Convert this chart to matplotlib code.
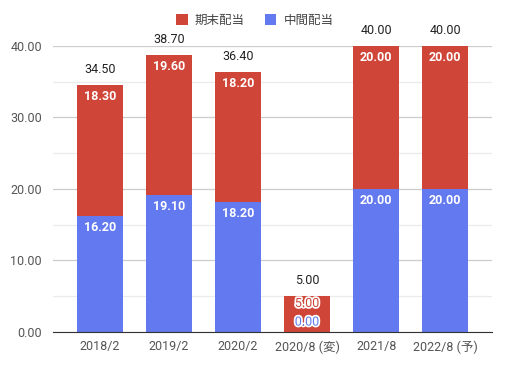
import matplotlib
matplotlib.use('Agg')
import matplotlib.pyplot as plt
import matplotlib.patheffects as pe
import numpy as np

plt.rcParams['font.family'] = ['Roboto', 'Noto Sans CJK JP', 'DejaVu Sans']

categories = ['2018/2', '2019/2', '2020/2', '2020/8 (変)', '2021/8', '2022/8 (予)']
interim = [16.2, 19.1, 18.2, 0.0, 20.0, 20.0]    # 中間配当
year_end = [18.3, 19.6, 18.2, 5.0, 20.0, 20.0]   # 期末配当
totals = [34.5, 38.7, 36.4, 5.0, 40.0, 40.0]

RED = '#cf4538'
BLUE = '#6379ef'

fig = plt.figure(figsize=(5.1, 3.67), dpi=100)
ax = fig.add_axes([0.104, 0.0954, 0.861, 0.7793])

x = np.arange(len(categories))
w = 0.67
ax.bar(x, interim, w, color=BLUE, zorder=3, label='中間配当')
ax.bar(x, year_end, w, bottom=interim, color=RED, zorder=3, label='期末配当')

ax.set_xlim(-0.68, len(categories) - 0.32)
ax.set_ylim(0, 40)
ax.set_yticks([0, 10, 20, 30, 40])
ax.set_yticklabels([f'{v:.2f}' for v in [0, 10, 20, 30, 40]])
ax.set_yticks([5, 15, 25, 35], minor=True)
ax.grid(axis='y', which='major', color='#cccccc', lw=0.9, zorder=0)
ax.grid(axis='y', which='minor', color='#ebebeb', lw=0.9, zorder=0)
ax.set_xticks(x)
ax.set_xticklabels(categories)
ax.tick_params(axis='both', which='both', length=0, labelsize=9, colors='#555555')
ax.tick_params(axis='x', pad=6)
ax.tick_params(axis='y', pad=8)
for s in ['top', 'right', 'left']:
    ax.spines[s].set_visible(False)
ax.spines['bottom'].set_color('#333333')
ax.spines['bottom'].set_zorder(4)

for i in range(len(categories)):
    ax.annotate(f'{totals[i]:.2f}', (x[i], totals[i]), xytext=(0, 9),
                textcoords='offset pixels', ha='center', va='bottom',
                fontsize=9, color='#222222', annotation_clip=False)
    if i == 3:
        stroke = [pe.withStroke(linewidth=2.5, foreground='white')]
        ax.text(x[i], 4.9, f'{year_end[i]:.2f}', ha='center', va='top',
                fontsize=9, color=RED, zorder=5, path_effects=stroke)
        ax.text(x[i], 2.3, f'{interim[i]:.2f}', ha='center', va='top',
                fontsize=9, color=BLUE, zorder=5, path_effects=stroke)
        continue
    ax.annotate(f'{interim[i]:.2f}', (x[i], interim[i]), xytext=(0, -5),
                textcoords='offset pixels', ha='center', va='top',
                fontsize=9, fontweight='bold', color='white', zorder=5)
    ax.annotate(f'{year_end[i]:.2f}', (x[i], totals[i]), xytext=(0, -5),
                textcoords='offset pixels', ha='center', va='top',
                fontsize=9, fontweight='bold', color='white', zorder=5)

handles, labels = ax.get_legend_handles_labels()
fig.legend(handles[::-1], labels[::-1], loc='center', bbox_to_anchor=(0.5, 0.945),
           ncol=2, frameon=False, fontsize=9, handlelength=0.9, handleheight=0.9,
           handletextpad=0.6, columnspacing=1.6, labelcolor='#444444')

fig.savefig('out.png', dpi=100)
